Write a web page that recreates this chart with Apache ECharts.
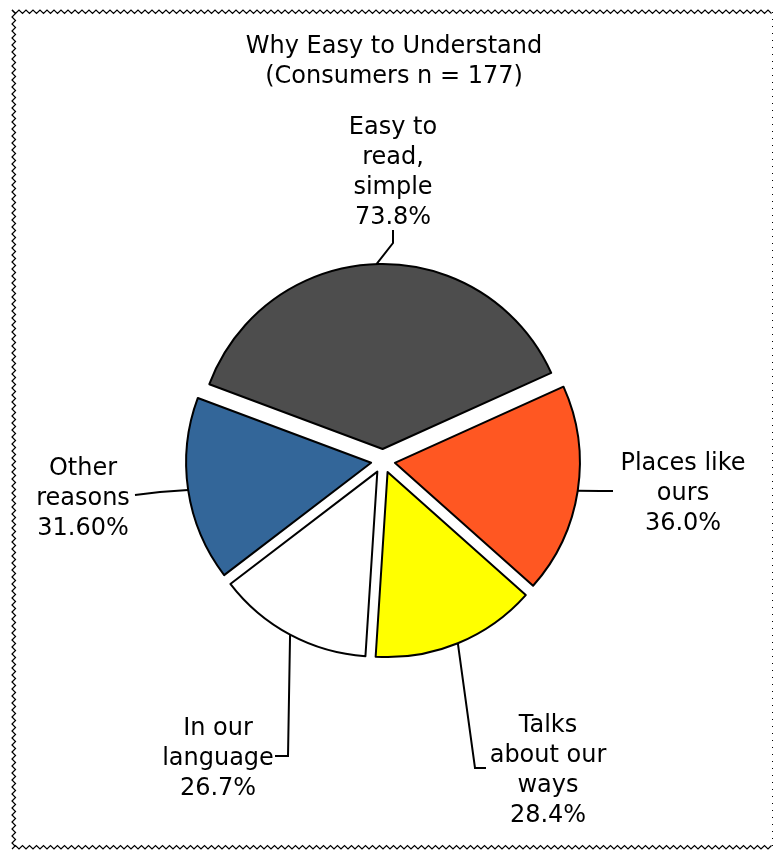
<!DOCTYPE html>
<html>
<head>
<meta charset="utf-8">
<script src="https://cdn.jsdelivr.net/npm/echarts@6/dist/echarts.min.js"></script>
<style>
  html, body { margin: 0; padding: 0; background: #fff; }
  #chart { width: 774px; height: 853px; }
</style>
</head>
<body>
<div id="chart"></div>
<script>
// Reasons consumers gave for finding the material easy to understand
const categories = ['Easy to\nread,\nsimple', 'Places like\nours', 'Talks\nabout our\nways', 'In our\nlanguage', 'Other\nreasons'];
const values = [73.8, 36.0, 28.4, 26.7, 31.6];
const decimals = [1, 1, 1, 1, 2];
const colors = ['#4d4d4d', '#ff5722', '#ffff00', '#ffffff', '#336699'];

const FONT = 'DejaVu Sans, Verdana, sans-serif';
const START_ANGLE = 159.5;
const EXPLODE = 12;
const TEXT_NUDGE = 3; // small baseline correction for multi-line labels

// Label anchor (x, y with vertical alignment) and the bend of each leader line, in page coordinates
const labelPlacement = [
  { x: 393, y: 230, v: 'bottom', bend: [[393, 243], [393, 230]] },
  { x: 683, y: 491, v: 'middle', bend: [[600, 491], [613, 491]] },
  { x: 548, y: 768, v: 'middle', bend: [[475, 768], [486, 768]] },
  { x: 218, y: 756, v: 'middle', bend: [[288, 756], [275, 756]] },
  { x: 83, y: 496, v: 'middle', bend: [[160, 492], [135, 495]] }
];

// Translation each exploded slice gets (labels and leader lines move with it)
const total = values.reduce((s, v) => s + v, 0);
const sliceShift = (() => {
  let acc = 0;
  return values.map((v) => {
    const mid = (START_ANGLE - (acc + v / 2) / total * 360) * Math.PI / 180;
    acc += v;
    return [EXPLODE * Math.cos(mid), -EXPLODE * Math.sin(mid)];
  });
})();

// Zig-zag frame around the chart
function zigzag(x0, y0, x1, y1, amp, step) {
  const pts = [];
  const len = Math.hypot(x1 - x0, y1 - y0);
  const n = Math.floor(len / step);
  const ux = (x1 - x0) / len, uy = (y1 - y0) / len;
  const nx = -uy, ny = ux;
  for (let i = 0; i <= n; i++) {
    const d = i * step;
    const o = (i % 2 === 0 ? 0 : amp);
    pts.push([x0 + ux * d + nx * o, y0 + uy * d + ny * o]);
  }
  return pts;
}

const frameStyle = { stroke: '#000', lineWidth: 1.2, fill: null };

function anchorOf(rect, align, vAlign) {
  const ax = align === 'left' ? rect.x : align === 'right' ? rect.x + rect.width : rect.x + rect.width / 2;
  const ay = vAlign === 'top' ? rect.y : vAlign === 'bottom' ? rect.y + rect.height : rect.y + rect.height / 2;
  return [ax, ay];
}

const chart = echarts.init(document.getElementById('chart'), null, { renderer: 'canvas' });

chart.setOption({
  backgroundColor: '#ffffff',
  animation: false,
  title: {
    text: 'Why Easy to Understand\n(Consumers n = 177)',
    left: 389,
    top: 27,
    textAlign: 'center',
    textStyle: {
      fontFamily: FONT,
      fontSize: 24,
      fontWeight: 'normal',
      color: '#000',
      lineHeight: 30
    }
  },
  graphic: [
    { type: 'polyline', shape: { points: zigzag(12, 10, 772, 10, 3.5, 3.5) }, style: frameStyle, silent: true },
    { type: 'polyline', shape: { points: zigzag(12, 849, 772, 849, -3.5, 3.5) }, style: frameStyle, silent: true },
    { type: 'polyline', shape: { points: zigzag(12, 10, 12, 849, -3.5, 3.5) }, style: frameStyle, silent: true },
    { type: 'line', shape: { x1: 772.5, y1: 12, x2: 772.5, y2: 849 }, style: { stroke: '#000', lineWidth: 1, lineDash: [1, 6] }, silent: true }
  ],
  series: [{
    type: 'pie',
    center: [383, 461],
    radius: [0, 185],
    startAngle: START_ANGLE,
    clockwise: true,
    selectedMode: 'multiple',
    selectedOffset: EXPLODE,
    avoidLabelOverlap: false,
    itemStyle: { borderColor: '#000', borderWidth: 2 },
    emphasis: { disabled: true },
    label: {
      show: true,
      position: 'outside',
      fontFamily: FONT,
      fontSize: 24,
      lineHeight: 30,
      color: '#000',
      formatter: (p) => p.name + '\n' + values[p.dataIndex].toFixed(decimals[p.dataIndex]) + '%'
    },
    labelLine: {
      show: true,
      length: 20,
      length2: 10,
      lineStyle: { color: '#000', width: 2 }
    },
    labelLayout: (params) => {
      const i = params.dataIndex;
      const cfg = labelPlacement[i];
      const sh = sliceShift[i];
      const pts = params.labelLinePoints;
      const start = pts && pts.length ? pts[0] : [cfg.x - sh[0], cfg.y - sh[1]];
      // Default anchor of the label; the new alignment keeps the anchor and the shift moves it
      const a = anchorOf(params.labelRect, params.align, params.verticalAlign);
      return {
        align: 'center',
        verticalAlign: cfg.v,
        dx: cfg.x - a[0] - sh[0],
        dy: cfg.y - a[1] - sh[1] + TEXT_NUDGE,
        labelLinePoints: [start].concat(cfg.bend.map((p) => [p[0] - sh[0], p[1] - sh[1]]))
      };
    },
    data: categories.map((name, i) => ({
      name: name,
      value: values[i],
      selected: true,
      itemStyle: { color: colors[i] }
    }))
  }]
});
</script>
</body>
</html>
